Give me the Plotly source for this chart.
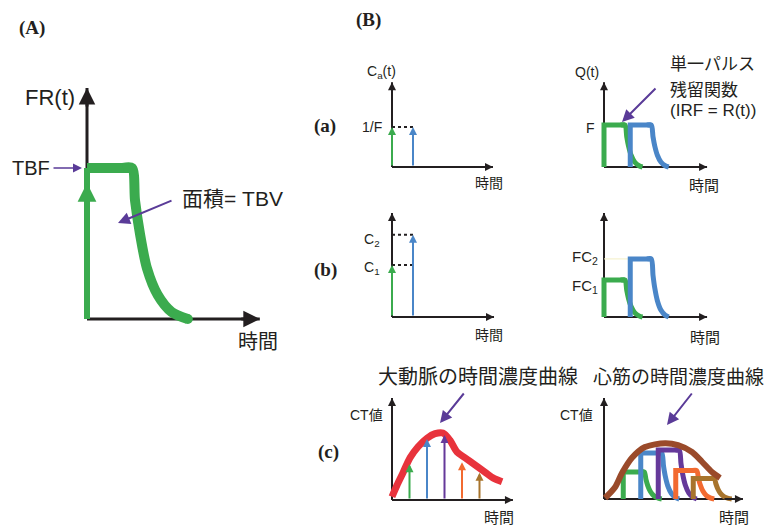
import plotly.graph_objects as go

W, H = 769, 527

# ---------------- data ----------------
# Panel (A): flow-scaled residue function
A_TBF = 1.0
A_plateau_end = 1.0
A_decay_len = 1.24
A_decay_u = [0, 0.054, 0.143, 0.268, 0.46, 0.71, 1.0]
A_decay_f = [1, 0.785, 0.564, 0.336, 0.16, 0.047, 0.0]

# Panel (B) pulse shape
B_decay_u = [0, 0.1, 0.2, 0.35, 0.55, 0.8, 1.0]
B_decay_f = [1, 0.72, 0.5, 0.28, 0.12, 0.03, 0.0]
pulse_width = 1.2
pulse_decay = 1.0

# (a)
a_in_t = [0.0, 1.2]
a_in_h = [1.0, 1.0]
a_out_t = [0.0, 1.5]
a_out_h = [1.0, 1.0]
# (b)
b_in_t = [0.0, 1.2]
b_in_h = [1.0, 1.58]
b_out_t = [0.0, 1.5]
b_out_h = [1.0, 1.57]
# (c)
c_times = [1, 2, 3, 4, 5]
c_ct = [0.55, 0.94, 1.0, 0.58, 0.42]
c_myo_t = [1.1, 2.1, 3.1, 4.1, 5.1]
aorta_t = [0.0, 0.29, 0.63, 1.03, 1.49, 2.0, 2.46, 2.91, 3.31, 3.71, 4.17, 4.74, 5.31, 5.77, 6.29]
aorta_v = [0.05, 0.23, 0.42, 0.65, 0.82, 0.95, 1.02, 1.03, 0.92, 0.74, 0.65, 0.54, 0.43, 0.34, 0.28]
myo_t = [0.06, 0.63, 1.03, 1.6, 2.34, 3.49, 4.23, 5.03, 5.6, 6.17, 6.63]
myo_v = [0.02, 0.24, 0.53, 0.84, 1.06, 1.14, 1.10, 0.96, 0.76, 0.55, 0.43]

GREEN = '#3bab4e'
BLUE = '#4a86c8'
PURPLE_C = '#65399a'
ORANGE = '#f26a30'
GOLD = '#a8742c'
C_COLORS = [GREEN, BLUE, PURPLE_C, ORANGE, GOLD]
RED = '#e8333c'
BROWN = '#9a4a2a'
ARROW_PURPLE = '#5a3b98'
INK = '#231f20'

# ---------------- panel layout ----------------
panels = {
    'A':  dict(n=1, ox=87,  oy=319, sx=45.0, sy=151.0, xend=3.84, yend=1.53, aw=3, asz=1.1),
    'aL': dict(n=2, ox=392, oy=167, sx=17.5, sy=40.0,  xend=5.77, yend=2.12, aw=2, asz=0.8),
    'aR': dict(n=3, ox=604, oy=167, sx=17.5, sy=42.0,  xend=5.89, yend=2.02, aw=2, asz=0.8),
    'bL': dict(n=4, ox=392, oy=317, sx=17.5, sy=52.0,  xend=5.83, yend=2.0,  aw=2, asz=0.8),
    'bR': dict(n=5, ox=604, oy=317, sx=17.5, sy=37.0,  xend=5.89, yend=2.81, aw=2, asz=0.8),
    'cL': dict(n=6, ox=392, oy=500, sx=17.5, sy=65.0,  xend=6.91, yend=1.57, aw=2, asz=0.8),
    'cR': dict(n=7, ox=604, oy=499, sx=17.5, sy=49.0,  xend=7.94, yend=2.06, aw=2, asz=0.8),
}

fig = go.Figure()
layout = dict(width=W, height=H, margin=dict(l=0, r=0, t=0, b=0),
              paper_bgcolor='white', plot_bgcolor='rgba(0,0,0,0)', showlegend=False,
              font=dict(family='Liberation Sans, Noto Sans CJK JP, sans-serif', color=INK))
annotations = []
PAD = 18

def clamp(v):
    return max(0.0, min(1.0, v))

def line(p, x, y, color, width, dash=None, shape='linear', smoothing=1.0):
    ln = dict(color=color, width=width, dash=dash, shape=shape)
    if shape == 'spline':
        ln['smoothing'] = smoothing
    fig.add_trace(go.Scatter(x=x, y=y, mode='lines', xaxis=p['xr'], yaxis=p['yr'],
                             line=ln, hoverinfo='skip'))

for key, p in panels.items():
    n = p['n']
    xs = '' if n == 1 else str(n)
    x0 = -PAD / p['sx']; x1 = p['xend'] + PAD / p['sx']
    y0 = -PAD / p['sy']; y1 = p['yend'] + PAD / p['sy']
    layout['xaxis' + xs] = dict(domain=[clamp((p['ox'] + x0 * p['sx']) / W), clamp((p['ox'] + x1 * p['sx']) / W)],
                                range=[x0, x1], visible=False, fixedrange=True, anchor='y' + xs)
    layout['yaxis' + xs] = dict(domain=[clamp(1 - (p['oy'] - y0 * p['sy']) / H), clamp(1 - (p['oy'] - y1 * p['sy']) / H)],
                                range=[y0, y1], visible=False, fixedrange=True, anchor='x' + xs)
    p['xr'] = 'x' + xs
    p['yr'] = 'y' + xs
    # axis lines as traces (below coloured marks), heads as short annotations
    line(p, [0, p['xend']], [0, 0], INK, p['aw'])
    line(p, [0, 0], [0, p['yend']], INK, p['aw'])
    hx_tail = p['xend'] - 20 / p['sx']
    hy_tail = p['yend'] - 20 / p['sy']
    annotations.append(dict(x=p['xend'], y=0, ax=hx_tail, ay=0, xref=p['xr'], yref=p['yr'],
                            axref=p['xr'], ayref=p['yr'], text='', showarrow=True,
                            arrowhead=2, arrowsize=p['asz'], arrowwidth=p['aw'], arrowcolor=INK))
    annotations.append(dict(x=0, y=p['yend'], ax=0, ay=hy_tail, xref=p['xr'], yref=p['yr'],
                            axref=p['xr'], ayref=p['yr'], text='', showarrow=True,
                            arrowhead=2, arrowsize=p['asz'], arrowwidth=p['aw'], arrowcolor=INK))

def varrow(p, t, h, color, width=2, size=1.0, base=0.0, head=2):
    annotations.append(dict(x=t, y=h, ax=t, ay=base, xref=p['xr'], yref=p['yr'],
                            axref=p['xr'], ayref=p['yr'], text='', showarrow=True,
                            arrowhead=head, arrowsize=size, arrowwidth=width, arrowcolor=color))

def pulse(p, t0, h, color, width):
    # rise + plateau (sharp corners)
    line(p, [t0, t0, t0 + pulse_width], [0, h, h], color, width)
    # decay (smooth)
    xs = [t0 + pulse_width * 0.8, t0 + pulse_width] + [t0 + pulse_width + u * pulse_decay for u in B_decay_u[1:]]
    ys = [h, h] + [h * f for f in B_decay_f[1:]]
    line(p, xs, ys, color, width, shape='spline', smoothing=0.8)

# ---------- Panel A ----------
pA = panels['A']
line(pA, [0, 0], [0, A_TBF], GREEN, 6)
line(pA, [0, A_plateau_end], [A_TBF, A_TBF], GREEN, 10)
dx = [A_plateau_end * 0.8, A_plateau_end] + [A_plateau_end + u * A_decay_len for u in A_decay_u[1:]]
dy = [A_TBF, A_TBF] + [A_TBF * f for f in A_decay_f[1:]]
line(pA, dx, dy, GREEN, 10, shape='spline', smoothing=0.8)
fig.add_trace(go.Scatter(x=[dx[-1]], y=[dy[-1]], mode='markers', xaxis=pA['xr'], yaxis=pA['yr'],
                         marker=dict(color=GREEN, size=10), hoverinfo='skip', cliponaxis=False))
varrow(pA, 0, 0.9, GREEN, width=5, size=0.75, base=0.4)

# ---------- (a) ----------
pL = panels['aL']
line(pL, [0, a_in_t[1]], [a_in_h[0], a_in_h[0]], INK, 2, dash='dot')
for t, h, c in zip(a_in_t, a_in_h, [GREEN, BLUE]):
    varrow(pL, t, h, c, width=2, size=0.8)
pR = panels['aR']
for t, h, c in zip(a_out_t, a_out_h, [GREEN, BLUE]):
    pulse(pR, t, h, c, 5)

# ---------- (b) ----------
pL = panels['bL']
for h in b_in_h:
    line(pL, [0, b_in_t[1]], [h, h], INK, 2, dash='dot')
for t, h, c in zip(b_in_t, b_in_h, [GREEN, BLUE]):
    varrow(pL, t, h, c, width=2, size=0.8)
pR = panels['bR']
line(pR, [0, b_out_t[1]], [b_out_h[1], b_out_h[1]], '#f3efc4', 1)
for t, h, c in zip(b_out_t, b_out_h, [GREEN, BLUE]):
    pulse(pR, t, h, c, 5)

# ---------- (c) ----------
pL = panels['cL']
line(pL, aorta_t, aorta_v, RED, 7, shape='spline', smoothing=0.8)
for t, h, c in zip(c_times, c_ct, C_COLORS):
    varrow(pL, t, h, c, width=2, size=0.8)
pR = panels['cR']
for t, h, c in zip(c_myo_t, c_ct, C_COLORS):
    pulse(pR, t, h, c, 5)
line(pR, myo_t, myo_v, BROWN, 6, shape='spline', smoothing=0.8)

# ---------- texts ----------
def T(text, px, py, size, anchor='center', serif=False, color=INK):
    f = dict(size=size, color=color)
    if serif:
        f['family'] = 'Liberation Serif, Noto Serif CJK JP, serif'
    annotations.append(dict(text=text, x=px / W, y=1 - py / H, xref='paper', yref='paper',
                            xanchor=anchor, yanchor='middle', showarrow=False, font=f))

T('<b>(A)</b>', 32, 28, 19, serif=True)
T('<b>(B)</b>', 368, 20, 19, serif=True)
T('<b>(a)</b>', 325, 126, 19, serif=True)
T('<b>(b)</b>', 325, 270, 19, serif=True)
T('<b>(c)</b>', 328, 452, 19, serif=True)
T('FR(t)', 50, 97, 22)
T('TBF', 31, 168, 20)
T('面積= TBV', 232, 198, 21)
T('時間', 258, 342, 20)
T('C<sub>a</sub>(t)', 381, 72, 14)
T('1/F', 372, 127, 14)
T('Q(t)', 587, 72, 14)
T('F', 590, 128, 14)
T('単一パルス', 668, 65, 17, anchor='left')
T('残留関数', 668, 90, 17, anchor='left')
T('(IRF = R(t))', 668, 110, 17, anchor='left')
T('時間', 489, 183, 14)
T('時間', 704, 185, 15)
T('時間', 489, 335, 14)
T('時間', 705, 337, 15)
T('時間', 499, 517, 15)
T('時間', 734, 517, 15)
T('C<sub>2</sub>', 372, 240, 14)
T('C<sub>1</sub>', 372, 268, 14)
T('FC<sub>2</sub>', 585, 258, 15)
T('FC<sub>1</sub>', 585, 286, 15)
T('CT値', 366, 415, 14)
T('CT値', 576, 415, 14)
T('大動脈の時間濃度曲線', 478, 377, 20)
T('心筋の時間濃度曲線', 678, 377, 19)

# pointer arrows (head, tail) in page pixels
pointers = [((82, 168), (52, 168), 1.5), ((118, 223), (173, 200), 2),
            ((622, 122), (657, 87), 2), ((440, 423), (465, 392), 2),
            ((667, 425), (693, 392), 2)]
for (hx, hy), (tx, ty), w in pointers:
    annotations.append(dict(x=hx / W, y=1 - hy / H, xref='paper', yref='paper',
                            ax=tx - hx, ay=ty - hy, text='', showarrow=True,
                            arrowhead=2, arrowsize=1.2, arrowwidth=w, arrowcolor=ARROW_PURPLE))

layout['annotations'] = annotations
fig.update_layout(**layout)
fig.write_html('out.html', config={'displayModeBar': False},
               post_script="document.body.style.margin='0';document.body.style.overflow='hidden';")
